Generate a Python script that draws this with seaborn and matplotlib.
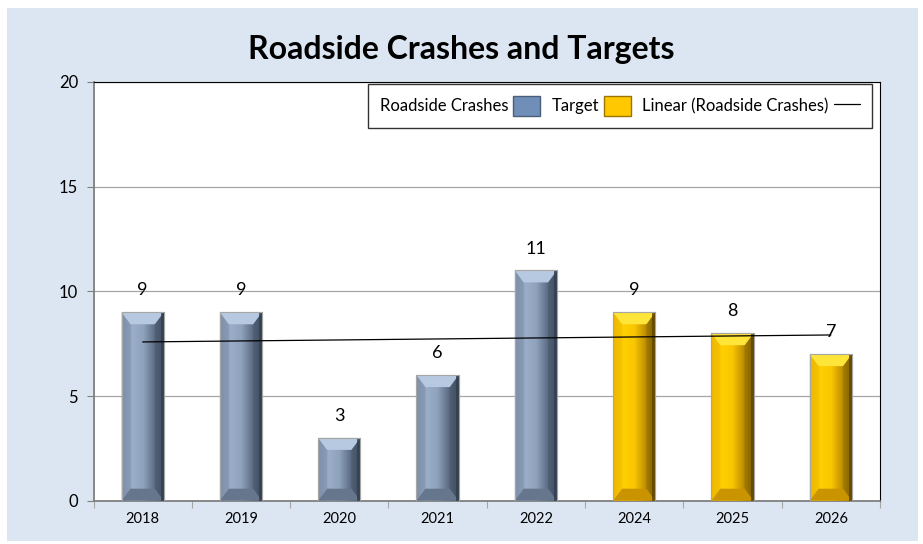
import numpy as np
import pandas as pd
import seaborn as sns
import matplotlib.pyplot as plt
from matplotlib.patches import Rectangle, Polygon, Patch
from matplotlib.lines import Line2D
from matplotlib.colors import LinearSegmentedColormap

# data
years = ['2018', '2019', '2020', '2021', '2022', '2024', '2025', '2026']
crashes = [9, 9, 3, 6, 11, 9, 8, 7]
kind = ['Roadside Crashes'] * 5 + ['Target'] * 3

df = pd.DataFrame({'year': years, 'value': crashes, 'kind': kind})

sns.set_style('white')
plt.rcParams['font.family'] = ['Lato', 'DejaVu Sans']
plt.rcParams['text.color'] = 'black'
plt.rcParams['xtick.labelcolor'] = 'black'
plt.rcParams['ytick.labelcolor'] = 'black'

blue = '#8DA0BB'
gold = '#FFC800'
styles = {
    'Roadside Crashes': dict(body=['#7A8CA5', '#9AAEC9', '#8FA2BC', '#5F7088', '#323E4E'],
                             top='#B7C9E0', bottom='#65768D', left='#8193AC', right='#4A596D'),
    'Target': dict(body=['#EBB400', '#FFD000', '#FAC600', '#C09200', '#5C4500'],
                   top='#FFE43A', bottom='#C99400', left='#F2BC00', right='#9A7400'),
}

fig = plt.figure(figsize=(9.23, 5.44), dpi=100)
fig.patch.set_facecolor('white')
fig.add_artist(Rectangle((7 / 923, 1 - 541 / 544), (918 - 7) / 923, (541 - 8) / 544,
                         transform=fig.transFigure, facecolor='#DCE6F2', edgecolor='none', zorder=0))

ax = fig.add_axes([93.5 / 923, 1 - 500.7 / 544, 786.5 / 923, 418.7 / 544])
ax.set_facecolor('white')

sns.barplot(data=df, x='year', y='value', hue='kind', dodge=False, width=0.43,
            palette={'Roadside Crashes': blue, 'Target': gold}, legend=False,
            edgecolor='#A6A6A6', linewidth=0.8, zorder=3, ax=ax)

ax.set_xlim(-0.5, 7.5)
ax.set_ylim(0, 20)
ax.set_yticks([0, 5, 10, 15, 20])
ax.yaxis.grid(True, color='#A6A6A6', linewidth=0.9, zorder=0)
ax.set_axisbelow(True)

# bevel look on each bar
dx = 9 * 8 / 786.5
dy = 12 * 20 / 418.7
for i, (v, k) in enumerate(zip(crashes, kind)):
    st = styles[k]
    x0, x1 = i - 0.215, i + 0.215
    y0, y1 = 0, v
    cmap = LinearSegmentedColormap.from_list('b', st['body'])
    grad = np.linspace(0, 1, 64).reshape(1, -1)
    ax.imshow(grad, cmap=cmap, extent=[x0, x1, y0, y1], aspect='auto', zorder=3.5,
              interpolation='bilinear')
    ax.add_patch(Polygon([(x0, y0), (x0 + dx, y0 + dy), (x0 + dx, y1 - dy), (x0, y1)],
                         closed=True, facecolor=st['left'], edgecolor='none', alpha=0.6, zorder=4))
    ax.add_patch(Polygon([(x1, y0), (x1 - dx, y0 + dy), (x1 - dx, y1 - dy), (x1, y1)],
                         closed=True, facecolor=st['right'], edgecolor='none', alpha=0.6, zorder=4))
    ax.add_patch(Polygon([(x0, y1), (x1, y1), (x1 - dx, y1 - dy), (x0 + dx, y1 - dy)],
                         closed=True, facecolor=st['top'], edgecolor='none', zorder=4))
    ax.add_patch(Polygon([(x0, y0), (x1, y0), (x1 - dx, y0 + dy), (x0 + dx, y0 + dy)],
                         closed=True, facecolor=st['bottom'], edgecolor='none', zorder=4))
    ax.add_patch(Rectangle((x1 - 0.03, y0), 0.03, y1 - y0, facecolor=st['body'][-1],
                           edgecolor='none', alpha=0.8, zorder=4.2))
    ax.add_patch(Rectangle((x0, y0), x1 - x0, y1 - y0, facecolor='none',
                           edgecolor='#A6A6A6', linewidth=0.8, zorder=4.5))
    ax.annotate(str(v), (i, v), xytext=(0, 10), textcoords='offset points',
                ha='center', va='bottom', fontsize=13, color='black', zorder=6)

ax.set_xlim(-0.5, 7.5)
ax.set_ylim(0, 20)

# linear trend over all bars
xs = np.arange(len(crashes))
m, b = np.polyfit(xs, crashes, 1)
ax.plot(xs, m * xs + b, color='black', linewidth=0.9, zorder=5)

# ticks
ax.set_xticks(np.arange(-0.5, 8, 1))
ax.set_xticklabels([])
ax.set_xticks(xs, minor=True)
ax.set_xticklabels(years, minor=True, fontsize=10.5)
ax.tick_params(axis='x', which='major', length=5, color='#A6A6A6', direction='out', bottom=True)
ax.tick_params(axis='x', which='minor', length=0, pad=8, labelcolor='black')
ax.tick_params(axis='y', length=5, color='#7F7F7F', direction='out', left=True, labelsize=12,
               pad=6, labelcolor='black')
ax.set_xlabel('')
ax.set_ylabel('')

for side in ['top', 'right']:
    ax.spines[side].set_color('black')
    ax.spines[side].set_linewidth(0.8)
for side in ['left', 'bottom']:
    ax.spines[side].set_color('#7F7F7F')
    ax.spines[side].set_linewidth(1.3)

handles = [Patch(facecolor='#6F8FB8', edgecolor='#4A5F7A'),
           Patch(facecolor=gold, edgecolor='#9A7500'),
           Line2D([0], [0], color='black', linewidth=0.9)]
leg = ax.legend(handles, ['Roadside Crashes', 'Target', 'Linear (Roadside Crashes)'],
                loc='upper right', bbox_to_anchor=(0.99, 0.995), borderaxespad=0,
                ncol=3, markerfirst=False, fontsize=12, frameon=True, fancybox=False,
                edgecolor='black', handlelength=1.6, handleheight=1.5, columnspacing=0.7,
                handletextpad=0.3, borderpad=0.7)
leg.get_frame().set_linewidth(1.0)
leg.set_zorder(10)
for t in leg.get_texts():
    t.set_color('black')

fig.text(0.5, 1 - 50 / 544, 'Roadside Crashes and Targets', ha='center', va='center',
         fontsize=23, fontweight='bold', color='black')

fig.savefig('out.png', dpi=100)
